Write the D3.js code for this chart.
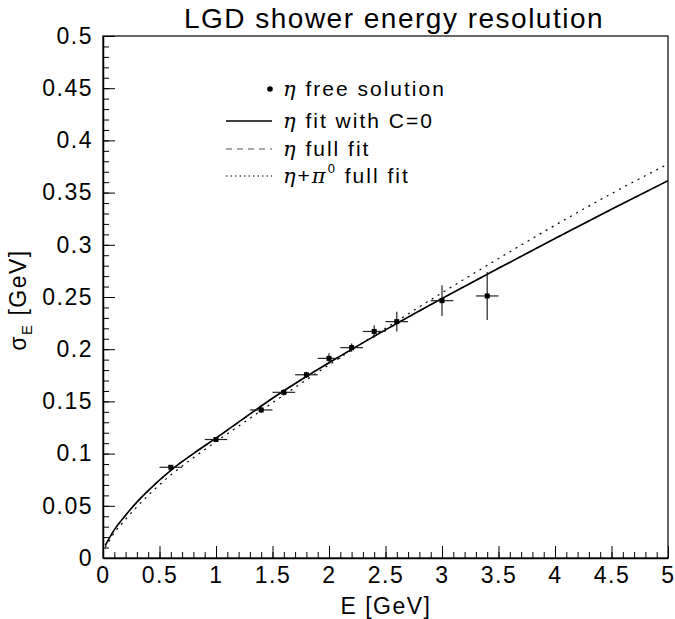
<!DOCTYPE html>
<html><head><meta charset="utf-8">
<script src="https://cdn.jsdelivr.net/npm/d3@7"></script>
<style>
body{margin:0;background:#fff}
svg text{font-family:"Liberation Sans",Arial,sans-serif;fill:#000}
</style>
</head><body><svg id="c" width="675" height="619"></svg>
<script>
// ---- data ----
const energy    = [0.6, 1.0, 1.4, 1.6, 1.8, 2.0, 2.2, 2.4, 2.6, 3.0, 3.4];
const sigma     = [0.0869, 0.1135, 0.1418, 0.1587, 0.1755, 0.1912, 0.2015, 0.2170, 0.2264, 0.2465, 0.2510];
const sigmaErr  = [0.002, 0.002, 0.003, 0.003, 0.003, 0.005, 0.004, 0.006, 0.0095, 0.0148, 0.023];
const energyErr = [0.1, 0.1, 0.1, 0.1, 0.1, 0.1, 0.1, 0.1, 0.1, 0.1, 0.1];

const curveE      = [0.02, 0.1, 0.2, 0.3, 0.4, 0.6, 0.8, 1.0, 1.25, 1.5, 1.75, 2.0, 2.5, 3.0, 3.5, 4.0, 4.5, 5.0];
const fitC0Sigma  = [0.012, 0.027, 0.041, 0.0535, 0.0645, 0.084, 0.100, 0.1148, 0.134, 0.153, 0.1705, 0.187, 0.2185, 0.2485, 0.2775, 0.306, 0.334, 0.3614];
const fullFitSigma= [0.012, 0.027, 0.041, 0.0535, 0.0645, 0.084, 0.100, 0.1148, 0.134, 0.153, 0.1705, 0.187, 0.2185, 0.2485, 0.2775, 0.306, 0.334, 0.3614];
const etaPi0Sigma = [0.010, 0.024, 0.037, 0.049, 0.060, 0.0795, 0.096, 0.1115, 0.130, 0.1487, 0.167, 0.185, 0.220, 0.254, 0.2868, 0.3187, 0.349, 0.3774];

const xTickValues = [0, 0.5, 1, 1.5, 2, 2.5, 3, 3.5, 4, 4.5, 5];
const xTickLabels = ["0", "0.5", "1", "1.5", "2", "2.5", "3", "3.5", "4", "4.5", "5"];
const yTickValues = [0, 0.05, 0.1, 0.15, 0.2, 0.25, 0.3, 0.35, 0.4, 0.45, 0.5];
const yTickLabels = ["0", "0.05", "0.1", "0.15", "0.2", "0.25", "0.3", "0.35", "0.4", "0.45", "0.5"];

const titleText = "LGD shower energy resolution";

// ---- layout ----
const svg = d3.select("#c");
const L = 103, R = 668, T = 36, B = 558;
const x = d3.scaleLinear().domain([0, 5]).range([L, R]);
const y = d3.scaleLinear().domain([0, 0.5]).range([B, T]);

svg.append("rect").attr("width", 675).attr("height", 619).attr("fill", "#fff");

// frame
svg.append("rect").attr("x", L).attr("y", T).attr("width", R - L).attr("height", B - T)
  .attr("fill", "none").attr("stroke", "#000").attr("stroke-width", 1.2);

// minor ticks
const minorX = d3.range(0, 50.5, 1).map(d => d / 10);
const minorY = d3.range(0, 50.5, 1).map(d => d / 100);
svg.append("g").attr("transform", `translate(0,${B})`)
  .call(d3.axisBottom(x).tickValues(minorX).tickSizeInner(-6).tickSizeOuter(0).tickFormat(""))
  .call(g => g.select(".domain").remove())
  .selectAll("line").attr("stroke", "#000");
svg.append("g").attr("transform", `translate(${L},0)`)
  .call(d3.axisLeft(y).tickValues(minorY).tickSizeInner(-6).tickSizeOuter(0).tickFormat(""))
  .call(g => g.select(".domain").remove())
  .selectAll("line").attr("stroke", "#000");

// major axes
const gx = svg.append("g").attr("transform", `translate(0,${B})`)
  .call(d3.axisBottom(x).tickValues(xTickValues).tickSizeInner(-12).tickSizeOuter(0).tickPadding(9)
    .tickFormat((d, i) => xTickLabels[i]));
gx.attr("font-family", null).attr("font-size", null);
gx.select(".domain").attr("stroke", "#000").attr("stroke-width", 1.5);
gx.selectAll("line").attr("stroke", "#000");
gx.selectAll("text").attr("font-size", 23).attr("letter-spacing", "1.5px").attr("fill", "#000");

const gy = svg.append("g").attr("transform", `translate(${L},0)`)
  .call(d3.axisLeft(y).tickValues(yTickValues).tickSizeInner(-12).tickSizeOuter(0).tickPadding(10)
    .tickFormat((d, i) => yTickLabels[i]));
gy.attr("font-family", null).attr("font-size", null);
gy.select(".domain").attr("stroke", "#000").attr("stroke-width", 1.5);
gy.selectAll("line").attr("stroke", "#000");
gy.selectAll("text").attr("font-size", 23).attr("letter-spacing", "1.5px").attr("fill", "#000");

// title
svg.append("text").attr("x", 394).attr("y", 28).attr("text-anchor", "middle")
  .attr("font-size", 28).attr("letter-spacing", "1.5px").text(titleText);

// axis titles
svg.append("text").attr("x", 386).attr("y", 614).attr("text-anchor", "middle")
  .attr("font-size", 23).attr("letter-spacing", "1.5px").text("E [GeV]");
const yt = svg.append("text").attr("transform", "translate(26,300) rotate(-90)")
  .attr("text-anchor", "middle").attr("font-size", 23).attr("letter-spacing", "1.5px");
yt.append("tspan").text("σ");
yt.append("tspan").attr("font-size", 15).attr("dy", 6).text("E");
yt.append("tspan").attr("dy", -6).text(" [GeV]");

// curves
const clipId = "plotclip";
svg.append("clipPath").attr("id", clipId).append("rect")
  .attr("x", L).attr("y", T).attr("width", R - L).attr("height", B - T);
const line = d3.line().x(d => x(d[0])).y(d => y(d[1])).curve(d3.curveMonotoneX);
const plot = svg.append("g").attr("clip-path", `url(#${clipId})`);

plot.append("path").datum(curveE.map((e, i) => [e, etaPi0Sigma[i]]))
  .attr("d", line).attr("fill", "none").attr("stroke", "#000").attr("stroke-width", 1.2)
  .attr("stroke-dasharray", "2,5");
plot.append("path").datum(curveE.map((e, i) => [e, fullFitSigma[i]]))
  .attr("d", line).attr("fill", "none").attr("stroke", "#444").attr("stroke-width", 1.2)
  .attr("stroke-dasharray", "6,5");
plot.append("path").datum(curveE.map((e, i) => [e, fitC0Sigma[i]]))
  .attr("d", line).attr("fill", "none").attr("stroke", "#000").attr("stroke-width", 1.6);

// data points with error bars
const pts = plot.append("g");
energy.forEach((e, i) => {
  pts.append("line").attr("x1", x(e - energyErr[i])).attr("x2", x(e + energyErr[i]))
    .attr("y1", y(sigma[i])).attr("y2", y(sigma[i])).attr("stroke", "#222").attr("stroke-width", 1.2);
  pts.append("line").attr("x1", x(e)).attr("x2", x(e))
    .attr("y1", y(sigma[i] - sigmaErr[i])).attr("y2", y(sigma[i] + sigmaErr[i]))
    .attr("stroke", "#222").attr("stroke-width", 1.2);
  pts.append("rect").attr("x", x(e) - 2.5).attr("y", y(sigma[i]) - 2.5)
    .attr("width", 5).attr("height", 5).attr("fill", "#000");
});

// legend
const lg = svg.append("g").attr("font-size", 21);
const rows = [89, 121, 149, 176];
lg.append("circle").attr("cx", 270).attr("cy", rows[0]).attr("r", 2.8).attr("fill", "#000");
lg.append("line").attr("x1", 226).attr("x2", 272).attr("y1", rows[1]).attr("y2", rows[1])
  .attr("stroke", "#000").attr("stroke-width", 1.3);
lg.append("line").attr("x1", 226).attr("x2", 272).attr("y1", rows[2]).attr("y2", rows[2])
  .attr("stroke", "#555").attr("stroke-width", 1.2).attr("stroke-dasharray", "6,5");
lg.append("line").attr("x1", 226).attr("x2", 272).attr("y1", rows[3]).attr("y2", rows[3])
  .attr("stroke", "#000").attr("stroke-width", 1.1).attr("stroke-dasharray", "1.5,3");

function legendText(yy, parts) {
  const t = lg.append("text").attr("x", 283).attr("y", yy + 7).attr("letter-spacing", "2px");
  parts.forEach(p => {
    const s = t.append("tspan").text(p.t);
    if (p.it) s.attr("font-style", "italic").attr("font-family", "'DejaVu Serif',serif");
    if (p.sup) s.attr("font-size", 13).attr("dy", -10);
    if (p.down) s.attr("dy", 10);
  });
}
legendText(rows[0], [{t: "η", it: true}, {t: " free solution"}]);
legendText(rows[1], [{t: "η", it: true}, {t: " fit with C=0"}]);
legendText(rows[2], [{t: "η", it: true}, {t: " full fit"}]);
legendText(rows[3], [{t: "η", it: true}, {t: "+"}, {t: "π", it: true}, {t: "0", sup: true}, {t: " full fit", down: true}]);
</script></body></html>
